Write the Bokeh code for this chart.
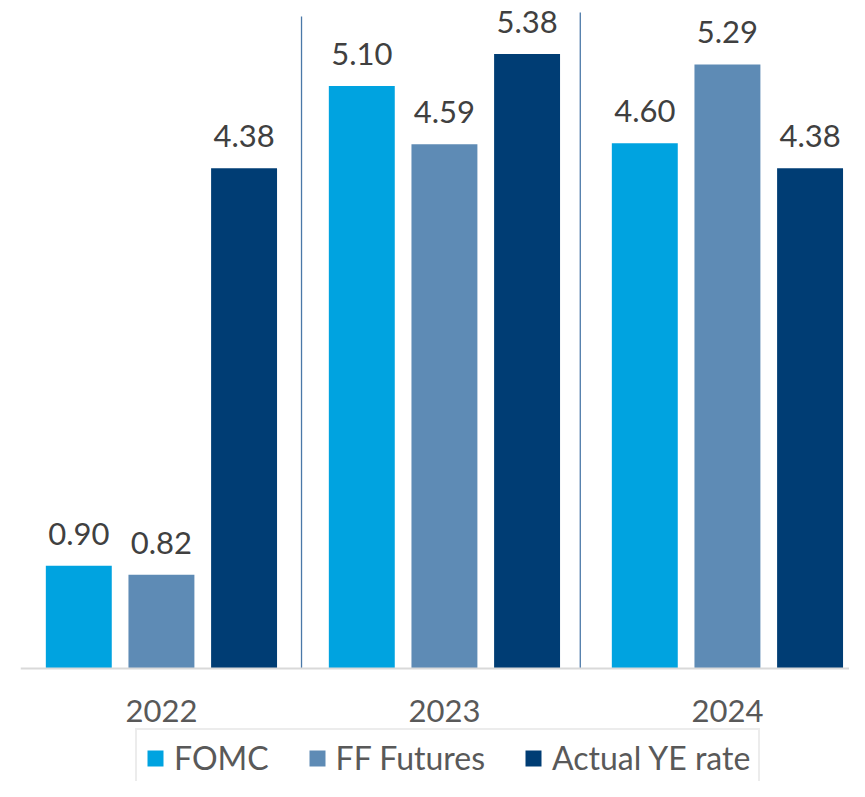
from bokeh.plotting import figure
from bokeh.models import Range1d, Span, Legend, LegendItem, ColumnDataSource
from bokeh.transform import dodge
from bokeh.core.properties import value
from bokeh.embed import file_html
from bokeh.resources import INLINE

years = ["2022", "2023", "2024"]
series = ["FOMC", "FF Futures", "Actual YE rate"]
fomc = [0.90, 5.10, 4.60]
ff_futures = [0.82, 4.59, 5.29]
actual_ye = [4.38, 5.38, 4.38]
colors = ["#00A3E0", "#5E8BB5", "#003D74"]

# separators between year groups (x position, top in data units)
sep_x = [0.495, 1.48]
sep_top = [5.71, 5.745]

xs = list(range(len(years)))
src = ColumnDataSource(dict(
    x=xs, years=years, base=[0] * len(years),
    s0=fomc, s1=ff_futures, s2=actual_ye,
    l0=[f"{v:.2f}" for v in fomc],
    l1=[f"{v:.2f}" for v in ff_futures],
    l2=[f"{v:.2f}" for v in actual_ye],
))

FONT = "Lato"
W, H = 849, 781
PX_PER_UNIT = 114.2
BASE_Y = 668
LEFT = 20
x_start = -0.498
x_end = x_start + (W - LEFT) / 283.0

p = figure(width=W, height=H,
           x_range=Range1d(x_start, x_end),
           y_range=Range1d(-(H - BASE_Y) / PX_PER_UNIT, BASE_Y / PX_PER_UNIT),
           output_backend="svg", toolbar_location=None,
           min_border_left=LEFT, min_border_right=0, min_border_top=0, min_border_bottom=0)
p.outline_line_color = None
p.xgrid.visible = False
p.ygrid.visible = False
p.xaxis.visible = False
p.yaxis.visible = False

offsets = [-0.292, 0.0, 0.292]
items = []
for i, (name, col) in enumerate(zip(series, colors)):
    r = p.vbar(x=dodge("x", offsets[i], range=p.x_range), top=f"s{i}", bottom=0, width=0.233,
               source=src, fill_color=col, line_color=None)
    p.text(x=dodge("x", offsets[i], range=p.x_range), y=f"s{i}", text=f"l{i}",
           source=src, text_align="center", text_baseline="alphabetic", y_offset=-32,
           text_font=value(FONT), text_font_size="31px", text_color="#404040")
    items.append(LegendItem(label=name, renderers=[r]))

# group separators
p.segment(x0=sep_x, y0=[0, 0], x1=sep_x, y1=sep_top, line_color="#4A78A8", line_width=1.3)

# category axis line and labels
p.add_layout(Span(location=0, dimension="width", line_color="#D9D9D9", line_width=2))
p.text(x="x", y="base", text="years", source=src, text_align="center",
       text_baseline="alphabetic", y_offset=42,
       text_font=value(FONT), text_font_size="31px", text_color="#595959")

legend = Legend(items=items, orientation="horizontal", location=(115, -6),
                label_text_font=FONT, label_text_font_size="32px", label_text_color="#595959",
                glyph_width=20, glyph_height=20, label_standoff=9, spacing=38,
                padding=8, margin=0,
                border_line_color="#D9D9D9", border_line_width=2,
                background_fill_color="white")
p.add_layout(legend, "center")

open("out.html", "w").write(file_html(p, INLINE))
